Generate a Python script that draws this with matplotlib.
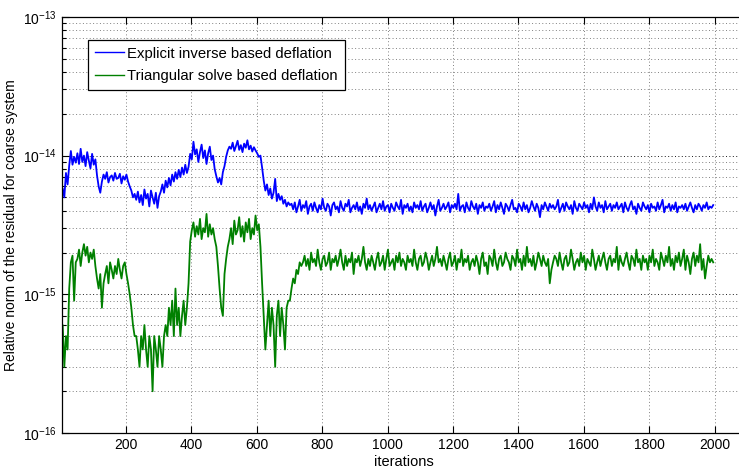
import numpy as np
import matplotlib.pyplot as plt
from matplotlib.ticker import FixedLocator, NullFormatter

plt.rcParams['font.family'] = 'Liberation Sans'
plt.rcParams['mathtext.fontset'] = 'custom'
plt.rcParams['mathtext.rm'] = 'Liberation Sans'
plt.rcParams['mathtext.it'] = 'Liberation Sans:italic'

# residuals sampled every 5 iterations, starting at iteration 1
step = 5

# explicit inverse based deflation, in units of 1e-15
explicit_inv = [
    4.2, 5.8, 5.0, 7.5, 6.2, 8.5,
    10.8, 8.6, 9.8, 8.9,
    10.4, 8.7, 11.2, 9.0, 10.0, 8.4, 10.6, 9.2, 8.1, 10.3, 8.6, 9.4,
    7.2, 6.0, 5.4,
    6.5, 7.3, 6.8, 7.6, 6.4, 7.0, 7.2, 6.6, 7.5, 6.8, 6.9, 7.4, 6.3, 7.1, 6.7, 7.3, 6.5,
    6.0, 5.6, 5.0, 5.3,
    4.8, 5.5, 4.6, 5.2, 4.4, 5.7, 4.9, 5.3, 4.3, 5.6, 5.0, 4.5, 5.4, 4.2, 5.1,
    5.5, 6.2, 5.4, 6.6, 5.9,
    6.9, 6.1, 7.3, 6.5, 7.6, 6.8, 7.9, 7.0, 8.2, 7.3, 8.6, 7.5, 8.3,
    10.3, 9.4, 12.6, 10.2, 11.1, 9.0, 10.6, 12.0, 9.6, 10.9, 8.7, 10.4, 11.6, 9.3, 10.0,
    8.0, 7.1, 6.4, 6.9, 6.2, 7.6, 8.4, 9.8, 10.9, 11.6,
    11.2, 12.4, 10.8, 11.7, 12.8, 11.0, 11.9, 10.6, 12.2, 11.4, 12.9, 11.1, 11.8, 10.7, 11.5, 10.9,
    10.4, 9.8, 10.0, 8.2,
    6.6, 5.6, 6.2, 5.2, 5.8, 4.9, 5.4, 6.8, 4.7, 5.3, 4.8, 5.1, 4.5, 4.8, 4.3, 4.6, 4.4,
    4.5, 4.1, 4.6, 3.9, 4.3, 4.8, 4.0, 4.4, 4.2, 4.7, 3.8, 4.3, 4.5, 4.0, 4.6, 4.2, 3.9, 4.4, 4.1, 4.9,
    4.2, 4.0, 4.5, 4.3, 3.7, 4.4, 4.6, 4.1, 4.3, 3.9, 4.7, 4.2, 4.0, 4.5, 4.3, 4.8, 3.9, 4.2, 4.4, 4.1,
    4.6, 4.0, 4.3, 3.8, 4.5, 4.2, 4.9, 4.1, 4.4, 4.0, 4.3, 4.6, 3.9, 4.2, 4.5, 4.1, 4.7, 4.0, 4.3, 4.4,
    3.9, 4.5, 4.2, 4.0, 4.6, 4.3, 4.1, 4.8, 3.8, 4.4, 4.2, 4.5, 4.0, 4.3, 3.9, 4.6, 4.2, 4.4, 4.1, 4.7,
    4.0, 4.3, 4.5, 3.9, 4.2, 4.6, 4.1, 4.4, 3.7, 4.3, 4.8, 4.0, 4.2, 4.5, 4.1, 4.3, 4.6, 3.9, 4.4, 4.2,
    4.5, 4.1, 5.3, 4.0, 4.3, 4.4, 3.9, 4.6, 4.2, 4.0, 4.7, 4.3, 4.1, 4.5, 3.8, 4.4, 4.2, 4.6, 4.0, 4.3,
    4.2, 4.5, 4.0, 4.3, 4.7, 3.9, 4.4, 4.1, 4.6, 4.2, 3.8, 4.5, 4.3, 4.0, 4.4, 4.8, 4.1, 4.2, 3.9, 4.5,
    4.3, 4.0, 4.6, 4.1, 4.4, 3.9, 4.2, 4.7, 4.3, 4.0, 4.5, 4.2, 3.6, 4.4, 4.1, 4.6, 4.3, 4.0, 4.5, 4.2,
    4.4, 4.1, 4.3, 4.8, 3.9, 4.2, 4.5, 4.0, 4.6, 4.3, 4.1, 4.4, 3.8, 4.7, 4.2, 4.0, 4.5, 4.3, 4.1, 4.6,
    4.2, 4.4, 3.9, 4.5, 4.1, 5.0, 4.3, 4.0, 4.6, 4.2, 4.4, 3.9, 4.7, 4.1, 4.3, 4.5, 4.0, 4.4, 4.2, 4.6,
    4.1, 4.3, 4.5, 3.9, 4.6, 4.2, 4.0, 4.4, 4.7, 4.1, 4.3, 3.8, 4.5, 4.2, 4.0, 4.6, 4.3, 4.1, 4.4, 3.9,
    4.5, 4.2, 4.3, 4.0, 4.6, 4.1, 4.4, 4.8, 3.9, 4.3, 4.2, 4.5, 4.0, 4.4, 4.1, 4.6, 3.9, 4.3, 4.2, 4.4,
    4.1, 4.5, 4.0, 4.3, 4.6, 4.2, 3.9, 4.4, 4.1, 4.5, 4.3, 4.0, 4.4, 4.2, 4.6, 4.1, 4.3, 4.2, 4.4,
]

# triangular solve based deflation, in units of 1e-16
tri_solve = [
    4, 6, 3, 5, 4,
    11, 17, 19, 9, 17,
    18, 21, 16, 20, 23, 19, 22, 17, 20, 18, 21, 16,
    13, 11, 14, 8, 12,
    14, 16, 12, 17, 15, 13, 16, 14, 18, 15, 13, 16, 17, 14, 12,
    10, 8, 6, 5,
    5, 4, 3, 5, 4, 6, 4, 3, 5, 4, 2, 5, 4, 3, 5, 4, 3, 5,
    6, 5, 8, 6, 9, 5, 11, 6, 8, 5, 7, 9, 6, 8, 12,
    24, 29, 33, 26, 31, 27, 35, 25, 30, 28, 38, 26, 32, 27, 30, 25,
    22, 16, 11, 8, 7, 14, 18, 22,
    25, 30, 23, 34, 27, 29, 36, 26, 31, 24, 33, 28, 35, 25, 30, 27, 37, 29, 32,
    22, 12, 7, 4,
    6, 9, 5, 8, 6, 3, 7, 9, 5, 8, 6, 4, 8, 9, 9,
    11, 13, 12, 15, 14, 17, 16,
    17, 19, 16, 18, 15, 20, 17, 18, 16, 21, 17, 15, 18, 19, 16, 17, 20, 15, 18, 17, 19,
    16, 18, 21, 17, 15, 19, 16, 18, 17, 20, 14, 18, 17, 19, 16, 18, 22, 17, 15, 18, 16,
    19, 17, 15, 18, 20, 16, 17, 19, 15, 18, 21, 16, 17, 18, 15, 19, 17, 20, 16, 18, 17,
    15, 19, 17, 18, 16, 21, 17, 15, 18, 19, 16, 17, 20, 18, 15, 17, 19, 16, 18, 22, 17,
    18, 16, 19, 17, 15, 18, 20, 16, 17, 19, 15, 18, 17, 21, 16, 18, 17, 19, 15, 17, 18,
    16, 19, 17, 14, 18, 20, 16, 17, 14, 19, 18, 16, 21, 17, 15, 18, 19, 16, 17, 20, 18,
    17, 15, 19, 18, 16, 21, 17, 18, 15, 19, 16, 22, 17, 18, 16, 19, 15, 17, 20, 18, 16,
    19, 17, 16, 18, 12, 15, 17, 19, 18, 16, 20, 17, 15, 18, 19, 16, 17, 21, 18, 15, 17,
    18, 16, 20, 17, 19, 15, 18, 17, 16, 21, 18, 15, 17, 19, 16, 18, 20, 17, 15, 18, 19,
    16, 18, 17, 22, 15, 19, 17, 16, 18, 20, 17, 15, 19, 18, 16, 21, 17, 18, 15, 19, 17,
    18, 15, 19, 17, 21, 16, 18, 17, 15, 20, 18, 16, 19, 17, 22, 16, 18, 15, 19, 17, 20,
    16, 18, 21, 15, 19, 17, 14, 18, 20, 16, 19, 17, 23, 15, 18, 13, 16, 19, 17, 18, 17,
]

decades = [1e-16, 1e-15, 1e-14, 1e-13]

it_inv = 1 + step * np.arange(len(explicit_inv))
it_tri = 1 + step * np.arange(len(tri_solve))

fig = plt.figure(figsize=(7.39, 4.68), dpi=100)
ax = fig.add_axes([0.0835, 0.0748, 0.9254, 0.889])

ax.semilogy(it_inv, np.array(explicit_inv) * 1e-15, color=(0, 0, 1), lw=1.3,
            label='Explicit inverse based deflation')
ax.semilogy(it_tri, np.array(tri_solve) * 1e-16, color=(0, 0.5, 0), lw=1.3,
            label='Triangular solve based deflation')

ax.set_xlim(3, 2095)
ax.set_ylim(decades[0], decades[-1])
ax.set_xticks(range(200, 2001, 200))
ax.set_yticks(decades)
minor = [m * d for d in decades[:-1] for m in range(2, 10)]
ax.yaxis.set_minor_locator(FixedLocator(minor))
ax.yaxis.set_minor_formatter(NullFormatter())

ax.tick_params(which='both', direction='in', top=True, right=False, labelsize=10)
ax.tick_params(which='major', length=5, width=0.8)
ax.tick_params(which='minor', length=3, width=0.8)

dots = (0, (1, 2.5))
ax.grid(True, which='major', axis='x', ls=dots, color='0.5', lw=0.7)
ax.grid(True, which='major', axis='y', ls=dots, color='0.1', lw=0.7)
ax.grid(True, which='minor', axis='y', ls=dots, color='0.5', lw=0.7)
for s in ax.spines.values():
    s.set_linewidth(0.9)
ax.spines['right'].set_visible(False)

ax.set_xlabel('iterations', fontsize=10.5, labelpad=2)
ax.set_ylabel('Relative norm of the residual for coarse system', fontsize=10)

leg = ax.legend(loc='upper left', bbox_to_anchor=(0.0385, 0.945), borderaxespad=0,
                fancybox=False, edgecolor='k', framealpha=1, fontsize=10.7,
                handlelength=2.0, handletextpad=0.2, borderpad=0.45, labelspacing=0.6)
leg.get_frame().set_linewidth(0.9)
for h in leg.get_lines():
    h.set_linewidth(1.0)

fig.savefig('out.png', dpi=100)
